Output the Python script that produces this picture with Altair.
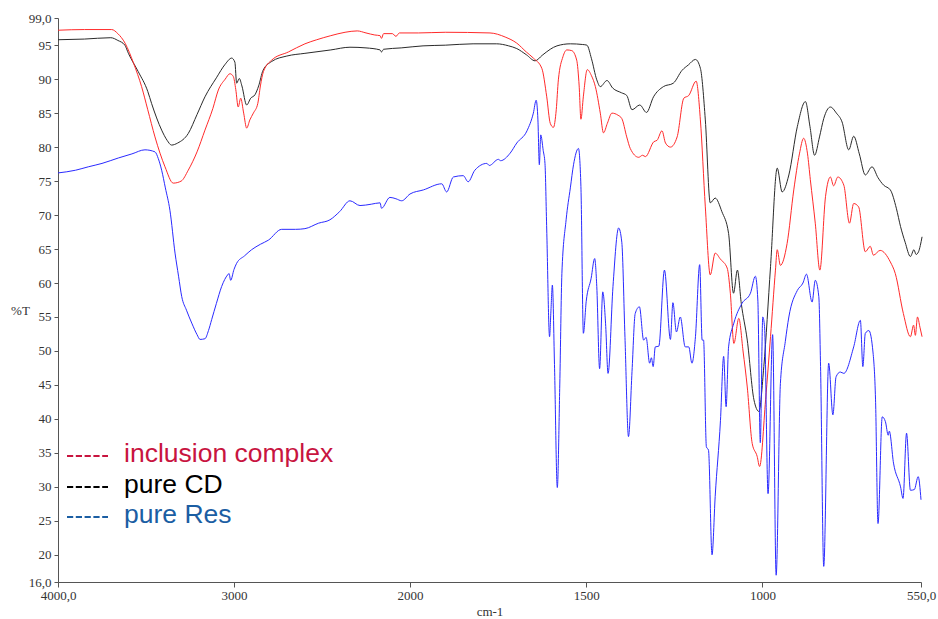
import altair as alt
import pandas as pd

# ---------------- data (wavenumber cm-1, %T) ----------------
cd_wn = [4000, 3850, 3700, 3660, 3620, 3600, 3544, 3490, 3468, 3411, 3380, 3355, 3320, 3260, 3210, 3165, 3100, 3050, 3013,
         2995, 2985, 2970, 2955, 2928, 2905, 2881, 2860, 2835, 2786, 2700, 2597, 2450, 2341, 2250, 2170, 2162, 2150, 2050,
         1963, 1900, 1821, 1754, 1720, 1697, 1670, 1645, 1625, 1602, 1583, 1545, 1510, 1498, 1485, 1470, 1460, 1441, 1425,
         1400, 1385, 1370, 1348, 1329, 1309, 1281, 1253, 1228, 1210, 1190, 1176, 1162, 1148, 1134, 1115, 1096, 1082, 1071,
         1060, 1043, 1024, 1010, 996, 977, 958, 944, 925, 901, 878, 865, 852, 838, 826, 807, 790, 774, 755, 741, 725, 708,
         689, 672, 656, 637, 620, 608, 595, 580, 570, 564, 557, 552, 547]
cd_t = [95.8, 95.9, 96.1, 95.7, 95.0, 93.8, 91.1, 88.2, 86.4, 82.5, 81.0, 80.3, 80.6, 82.0, 84.8, 87.4, 90.2, 92.2, 93.1,
        92.5, 89.4, 90.1, 89.0, 86.2, 87.2, 87.7, 89.0, 91.3, 92.6, 93.4, 93.8, 94.3, 94.7, 94.6, 94.3, 94.0, 94.4, 94.6,
        94.9, 95.0, 95.2, 95.2, 94.9, 94.5, 93.6, 92.7, 93.5, 94.4, 94.9, 95.2, 95.1, 95.0, 93.0, 89.9, 88.9, 89.8, 88.7,
        88.0, 87.6, 85.5, 86.2, 85.1, 87.4, 88.9, 89.4, 91.3, 92.1, 92.9, 91.6, 84.0, 71.8, 72.5, 70.5, 67.3, 58.5, 61.9,
        57.0, 51.6, 42.8, 41.1, 47.7, 62.4, 76.9, 73.4, 75.9, 83.0, 86.7, 83.0, 78.8, 81.5, 84.2, 85.9, 85.0, 83.7, 79.6, 81.6,
        79.0, 75.9, 77.1, 75.5, 74.4, 73.7, 71.0, 68.3, 66.0, 63.9, 64.9, 64.2, 64.6, 65.5, 66.8]

ic_wn = [4000, 3850, 3695, 3660, 3619, 3570, 3525, 3490, 3449, 3392, 3345, 3300, 3260, 3210, 3165, 3120, 3089, 3050, 3023,
         3004, 2990, 2976, 2962, 2945, 2928, 2910, 2890, 2865, 2850, 2833, 2786, 2691, 2597, 2530, 2450, 2369, 2300, 2250,
         2200, 2170, 2162, 2150, 2100, 2080, 2060, 1976, 1900, 1773, 1730, 1697, 1670, 1650, 1626, 1612, 1602, 1593, 1585,
         1579, 1566, 1555, 1541, 1527, 1520, 1515, 1508, 1497, 1485, 1474, 1460, 1451, 1440, 1427, 1410, 1399, 1385, 1375,
         1351, 1340, 1332, 1308, 1299, 1285, 1275, 1261, 1242, 1223, 1209, 1188, 1176, 1162, 1148, 1134, 1119, 1100, 1091,
         1081, 1067, 1055, 1043, 1029, 1015, 1008, 991, 977, 963, 958, 949, 930, 911, 895, 883, 872, 864, 850, 837, 821, 807,
         798, 786, 769, 753, 741, 727, 708, 694, 685, 666, 637, 623, 600, 580, 571, 566, 560, 553, 547]
ic_t = [97.2, 97.3, 97.3, 96.7, 95.3, 92.3, 88.9, 85.5, 81.5, 77.1, 74.7, 75.0, 76.6, 79.3, 82.5, 85.7, 88.4, 90.0, 90.8,
        90.4, 88.5, 85.9, 87.2, 85.0, 82.8, 84.0, 85.0, 86.4, 89.0, 91.1, 92.8, 94.0, 95.2, 95.8, 96.4, 96.9, 97.1, 96.8,
        96.5, 96.4, 96.0, 96.7, 96.7, 96.3, 96.8, 96.8, 96.9, 96.8, 96.2, 95.3, 94.0, 93.1, 91.6, 87.4, 83.5, 82.9, 85.5,
        89.9, 93.3, 94.3, 94.2, 92.8, 89.0, 84.1, 87.5, 91.4, 90.5, 88.9, 85.0, 82.1, 83.5, 85.0, 84.7, 84.2, 81.5, 79.8,
        78.5, 78.8, 78.6, 80.8, 81.0, 82.4, 80.6, 80.0, 81.5, 87.2, 87.6, 89.7, 84.0, 71.2, 61.2, 64.4, 63.5, 62.2, 58.5,
        51.1, 54.8, 50.0, 44.7, 36.4, 34.5, 33.0, 42.8, 52.1, 61.9, 64.9, 62.6, 65.8, 73.7, 79.0, 81.3, 79.0, 75.2, 68.8, 61.9,
        72.7, 75.6, 74.3, 75.6, 74.4, 68.8, 71.7, 71.2, 64.6, 65.4, 64.1, 64.8, 63.1, 61.4, 55.5, 52.1, 53.8, 52.3, 55.0, 53.5,
        52.1]

res_wn = [4000, 3900, 3828, 3750, 3657, 3580, 3506, 3449, 3430, 3411, 3390, 3364, 3335, 3315, 3297, 3270, 3240, 3210, 3193,
          3165, 3145, 3127, 3100, 3070, 3036, 3028, 3019, 3000, 2985, 2940, 2900, 2850, 2805, 2729, 2650, 2597, 2520, 2455,
          2400, 2341, 2284, 2220, 2170, 2162, 2114, 2080, 2047, 2000, 1962, 1910, 1896, 1877, 1849, 1835, 1816, 1782, 1775,
          1749, 1743, 1716, 1697, 1668, 1650, 1642, 1637, 1633, 1629, 1622, 1617, 1612, 1604, 1600, 1596, 1590, 1582, 1575,
          1569, 1557, 1545, 1536, 1522, 1515, 1508, 1500, 1486, 1476, 1470, 1462, 1453, 1445, 1438, 1424, 1408, 1399, 1390,
          1380, 1370, 1361, 1349, 1337, 1330, 1320, 1315, 1310, 1304, 1294, 1278, 1261, 1254, 1244, 1233, 1219, 1209, 1200,
          1190, 1178, 1171, 1167, 1159, 1153, 1143, 1134, 1119, 1110, 1103, 1096, 1081, 1058, 1034, 1020, 1013, 1006, 999,
          994, 984, 971, 961, 949, 935, 925, 901, 885, 875, 859, 850, 840, 835, 826, 812, 800, 791, 779, 769, 741, 722, 715,
          708, 698, 686, 679, 672, 660, 651, 643, 640, 628, 608, 601, 591, 580, 569, 558, 550]
res_t = [76.2, 76.6, 77.1, 77.6, 78.4, 79.0, 79.6, 79.3, 78.3, 76.6, 74.0, 70.7, 64.4, 61.0, 58.0, 56.0, 54.1, 52.4, 51.7,
         51.8, 53.0, 54.6, 57.0, 59.5, 61.2, 61.4, 60.4, 62.0, 62.9, 64.0, 64.9, 65.7, 66.3, 67.9, 67.9, 68.0, 68.8, 69.3,
         70.5, 72.1, 71.4, 71.6, 71.8, 71.0, 72.6, 72.4, 72.1, 73.1, 73.7, 74.6, 73.4, 75.6, 75.8, 74.9, 76.6, 77.6, 77.3,
         78.2, 78.0, 79.1, 80.6, 82.4, 85.0, 86.9, 84.0, 77.4, 81.8, 79.5, 77.6, 67.8, 52.1, 56.0, 59.7, 48.0, 29.9, 45.0,
         61.4, 69.3, 74.0, 77.4, 79.8, 74.2, 52.6, 57.3, 60.7, 63.6, 59.5, 47.4, 58.7, 54.0, 46.7, 59.5, 68.1, 66.0, 52.0,
         37.4, 47.0, 55.5, 56.5, 51.6, 52.0, 48.2, 49.0, 47.7, 50.6, 50.7, 61.9, 51.7, 57.1, 52.8, 55.0, 50.6, 50.6, 48.2,
         52.1, 62.7, 51.6, 51.6, 35.9, 35.4, 20.0, 28.6, 39.8, 49.2, 41.8, 50.6, 54.1, 57.0, 58.5, 61.0, 57.5, 36.5, 55.0,
         53.6, 29.0, 52.4, 17.0, 45.2, 51.4, 55.0, 58.9, 60.0, 61.3, 57.2, 60.4, 58.0, 47.7, 18.3, 48.2, 40.6, 46.2, 46.9,
         46.7, 50.6, 54.5, 47.7, 52.6, 53.0, 49.7, 42.8, 24.6, 40.3, 39.6, 37.6, 38.2, 33.5, 30.0, 28.3, 37.9, 29.5, 29.6,
         31.5, 28.1]

series_names = ["inclusion complex", "pure CD", "pure Res"]
line_colors = ["#ff2a2a", "#2a2a2a", "#2a2aff"]
legend_colors = ["#c8143f", "#000000", "#1b5ea3"]

x_ticks = [4000, 3000, 2000, 1500, 1000, 550]
y_ticks = [16, 20, 25, 30, 35, 40, 45, 50, 55, 60, 65, 70, 75, 80, 85, 90, 95, 99]

# ---------------- table ----------------
frames = []
for name, wn, t in [("inclusion complex", ic_wn, ic_t), ("pure CD", cd_wn, cd_t), ("pure Res", res_wn, res_t)]:
    frames.append(pd.DataFrame({"wn": wn, "T": t, "series": name, "idx": range(len(wn))}))
df = pd.concat(frames, ignore_index=True)

serif = "Liberation Serif"
sans = "Liberation Sans"

xscale = alt.Scale(domain=[4000, 2000, 550], range=[0, 352, 863], nice=False, zero=False)
yscale = alt.Scale(domain=[16, 99], nice=False, zero=False)

x_axis = alt.Axis(
    values=x_ticks, format="d", title="cm-1", grid=False,
    labelExpr="datum.value == 4000 ? '4000,0' : datum.value == 550 ? '550,0' : datum.label",
    labelFont=serif, labelFontSize=13, labelColor="#333333", labelFlush=False,
    titleFont=serif, titleFontSize=13, titleFontWeight="normal", titleColor="#333333", titlePadding=3,
    tickSize=5, tickColor="#555555", domainColor="#555555", labelPadding=2,
)
y_axis = alt.Axis(
    values=y_ticks, format="d", title="%T", grid=False,
    labelExpr="datum.value == 16 ? '16,0' : datum.value == 99 ? '99,0' : datum.label",
    labelFont=serif, labelFontSize=13, labelColor="#333333", labelFlush=False,
    titleFont=serif, titleFontSize=13, titleFontWeight="normal", titleColor="#333333",
    titleAngle=0, titleX=-38, titleY=292, titleAlign="center", titleBaseline="middle",
    tickSize=4, tickColor="#555555", domainColor="#555555", labelPadding=3,
)

base = alt.Chart(df)
lines = []
for name, col in zip(["pure CD", "inclusion complex", "pure Res"], [line_colors[1], line_colors[0], line_colors[2]]):
    lines.append(
        base.transform_filter(alt.datum.series == name)
        .mark_line(color=col, strokeWidth=1, interpolate="monotone")
        .encode(
            x=alt.X("wn:Q", scale=xscale, axis=x_axis),
            y=alt.Y("T:Q", scale=yscale, axis=y_axis),
            order="idx:Q",
        )
    )

legend_layers = []
leg_y = [438, 469, 499]
for name, col, yy in zip(series_names, legend_colors, leg_y):
    legend_layers.append(
        alt.Chart(pd.DataFrame({"label": [name]}))
        .mark_rule(color=col, strokeWidth=2, strokeDash=[6.2, 2.6])
        .encode(x=alt.value(9), x2=alt.value(50), y=alt.value(yy))
    )
    legend_layers.append(
        alt.Chart(pd.DataFrame({"label": [name]}))
        .mark_text(font=sans, fontSize=26.5, color=col, align="left", baseline="middle")
        .encode(x=alt.value(66), y=alt.value(yy - 2), text="label:N")
    )

chart = (
    alt.layer(*lines, *legend_layers)
    .properties(width=863, height=564, padding={"left": 58, "top": 18, "right": 17, "bottom": 37},
                autosize=alt.AutoSizeParams(type="none"), background="white")
    .configure_view(stroke=None)
)

chart.save("out.html", embed_options={"renderer": "svg", "actions": False})
